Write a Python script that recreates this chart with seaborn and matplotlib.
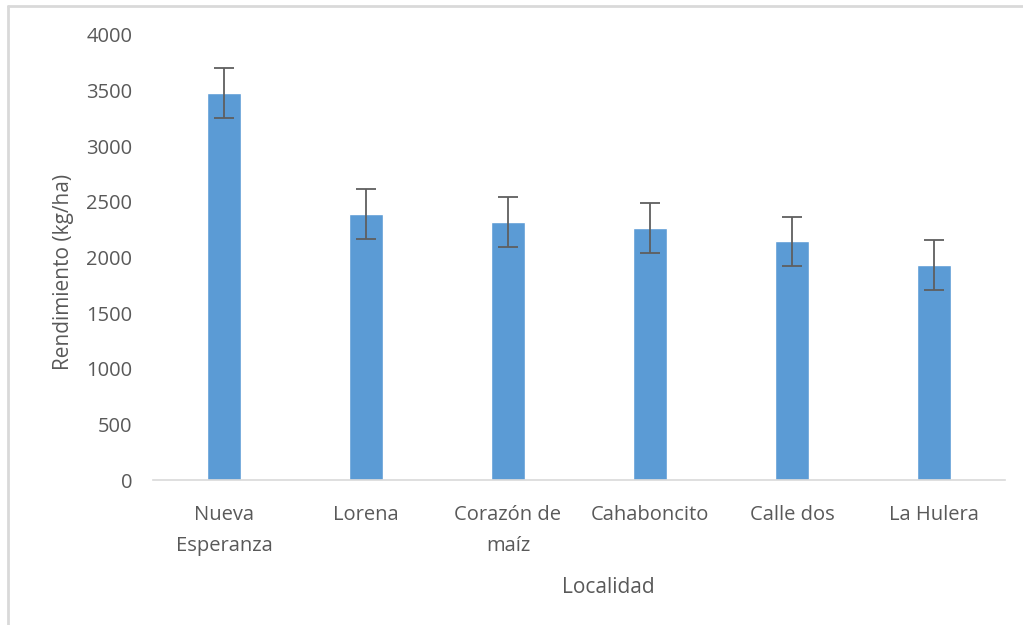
import matplotlib
matplotlib.use("Agg")
import matplotlib.pyplot as plt
import seaborn as sns
import pandas as pd
from matplotlib.lines import Line2D

localidades = ["Nueva\nEsperanza", "Lorena", "Corazón de\nmaíz", "Cahaboncito", "Calle dos", "La Hulera"]
rendimiento = [3478, 2390, 2315, 2262, 2145, 1935]
error = [225, 225, 225, 225, 220, 225]
yticks = [0, 500, 1000, 1500, 2000, 2500, 3000, 3500, 4000]

bar_color = "#5B9BD5"
text_color = "#595959"

sns.set_theme(style="white")
plt.rcParams["font.family"] = ["Open Sans", "DejaVu Sans"]

df = pd.DataFrame({"Localidad": localidades, "Rendimiento": rendimiento})

fig = plt.figure(figsize=(10.23, 6.25), dpi=100)
ax = fig.add_axes([153 / 1023, 1 - 480 / 625, 852 / 1023, 445 / 625])

sns.barplot(data=df, x="Localidad", y="Rendimiento", color=bar_color,
            saturation=1, width=0.245, errorbar=None, ax=ax)
ax.errorbar(range(len(localidades)), rendimiento, yerr=error, fmt="none",
            ecolor="#5f5f5f", elinewidth=1.3, capsize=7, capthick=1.3)

ax.set_ylim(0, 4000)
ax.set_xlim(-0.5, len(localidades) - 0.5)
ax.set_yticks(yticks)
ax.set_yticklabels([str(v) for v in yticks])
ax.tick_params(axis="both", length=0, labelsize=14.5, colors=text_color)
ax.tick_params(axis="y", pad=15)
ax.tick_params(axis="x", pad=18)
for lbl in ax.get_xticklabels():
    lbl.set_linespacing(1.75)

for s in ["top", "right", "left"]:
    ax.spines[s].set_visible(False)
ax.spines["bottom"].set_color("#D9D9D9")
ax.spines["bottom"].set_linewidth(1.2)

ax.set_xlabel("Localidad", fontsize=15, color=text_color)
ax.set_ylabel("Rendimiento (kg/ha)", fontsize=15, color=text_color)
ax.xaxis.set_label_coords(0.534, -0.219)
ax.yaxis.set_label_coords(-0.093, 0.467)

# marco exterior (solo izquierda y arriba visibles)
fig.add_artist(Line2D([8 / 1023, 8 / 1023], [0, 1 - 6 / 625], transform=fig.transFigure,
                      color="#D9D9D9", linewidth=2))
fig.add_artist(Line2D([8 / 1023, 1], [1 - 6 / 625, 1 - 6 / 625], transform=fig.transFigure,
                      color="#D9D9D9", linewidth=2))

fig.savefig("out.png", dpi=100)
